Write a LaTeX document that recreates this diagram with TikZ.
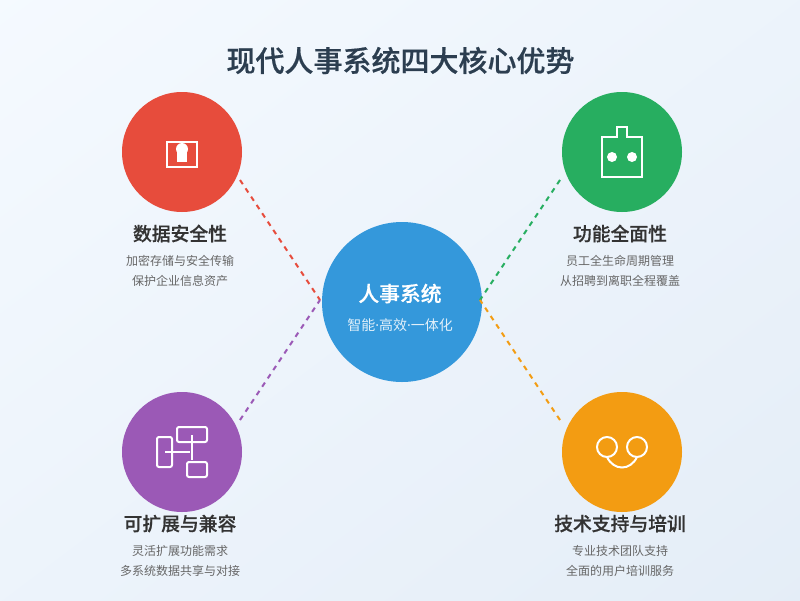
\documentclass[tikz,border=0pt]{standalone}
\usepackage{fontspec}
\setmainfont{Noto Sans CJK SC}
\newfontfamily\medf[FakeBold=0.5]{Noto Sans CJK SC Medium}
\newfontfamily\latinf{Noto Sans}
\definecolor{bgA}{HTML}{F5FAFF}
\definecolor{bgB}{HTML}{E4EDF7}
\definecolor{ttl}{HTML}{2C3E50}
\definecolor{hd}{HTML}{333333}
\definecolor{sub}{HTML}{666666}
\definecolor{cred}{HTML}{E74C3C}
\definecolor{cgreen}{HTML}{27AE60}
\definecolor{cpurple}{HTML}{9B59B6}
\definecolor{corange}{HTML}{F39C12}
\definecolor{cblue}{HTML}{3498DB}
\tikzset{
  disc/.style={circle,inner sep=0pt,minimum size=120pt,fill=#1},
  link/.style={dash pattern=on 5pt off 5pt,line width=2pt,draw=#1},
  icon/.style={draw=white,line width=2pt,fill=none},
  iconthin/.style={draw=white,line width=2pt,fill=none,rounded corners=2pt},
  title/.style={font=\fontsize{29}{34}\selectfont\medf,text=ttl,inner sep=0pt},
  head/.style={font=\fontsize{18.8}{22}\selectfont\medf,text=hd,inner sep=0pt},
  desc/.style={font=\fontsize{12}{15}\selectfont,text=sub,inner sep=0pt},
}
\begin{document}
\begin{tikzpicture}[x=1pt,y=-1pt]
\useasboundingbox (0,0) rectangle (800,600);
\begin{scope}
\clip (0,0) rectangle (800,600);
\shade[shading=axis,top color=bgA,bottom color=bgB,shading angle=37] (-100,-200) rectangle (900,800);
\end{scope}
\node[title] (t) at (400.5,60.5) {现代人事系统四大核心优势};
\coordinate (rs) at (240,180); \coordinate (re) at (320,300);
\coordinate (gs) at (560,180); \coordinate (ge) at (480,300);
\coordinate (ps) at (240,420); \coordinate (pe) at (320,300);
\coordinate (os) at (560,420); \coordinate (oe) at (480,300);
\node[disc=cblue,minimum size=160pt] (c) at (402,302) {};
\draw[link=cred] (rs) -- (re);
\draw[link=cgreen] (gs) -- (ge);
\draw[link=cpurple] (ps) -- (pe);
\draw[link=corange] (os) -- (oe);
\node[font=\fontsize{20.8}{24}\selectfont\medf,text=white,inner sep=0pt] (c1) at (400,293.5) {人事系统};
\node[font=\fontsize{14}{17}\selectfont,text=white,opacity=.85,inner sep=0pt] (c2) at (400,325.5) {智能{\latinf·}高效{\latinf·}一体化};
\node[disc=cred] (a) at (182,152) {};
\node[disc=cgreen] (b) at (622,152) {};
\node[disc=cpurple] (d) at (182,452) {};
\node[disc=corange] (e) at (622,452) {};
% red icon
\draw[icon] (167,142) rectangle (197,167);
\fill[white] (182,149) circle (6);
\fill[white] (177,149) rectangle (187,162);
% green icon
\draw[icon] (602,137) -- (617,137) -- (617,127) -- (627,127) -- (627,137) -- (642,137) -- (642,177) -- (602,177) -- cycle;
\fill[white] (612,157) circle (5) (632,157) circle (5);
% purple icon
\draw[iconthin] (157,437) rectangle (172,467);
\draw[iconthin] (177,427) rectangle (207,442);
\draw[iconthin] (187,462) rectangle (207,477);
\draw[icon] (165,452) -- (190,452);
\draw[icon] (192,435) -- (192,460);
% orange icon
\draw[icon] (607,447) circle (10) (637,447) circle (10);
\draw[icon] (607,457) .. controls (613.67,471) and (630.33,471) .. (637,457);
% labels
\node[head] (a1) at (180,233.5) {数据安全性};
\node[desc] (a2) at (180,261) {加密存储与安全传输};
\node[desc] (a3) at (180,281) {保护企业信息资产};
\node[head] (b1) at (620,233.5) {功能全面性};
\node[desc] (b2) at (620,261) {员工全生命周期管理};
\node[desc] (b3) at (620,281) {从招聘到离职全程覆盖};
\node[head] (d1) at (180,523.5) {可扩展与兼容};
\node[desc] (d2) at (180,551) {灵活扩展功能需求};
\node[desc] (d3) at (180,571) {多系统数据共享与对接};
\node[head] (e1) at (620,523.5) {技术支持与培训};
\node[desc] (e2) at (620,551) {专业技术团队支持};
\node[desc] (e3) at (620,571) {全面的用户培训服务};
\end{tikzpicture}
\end{document}
